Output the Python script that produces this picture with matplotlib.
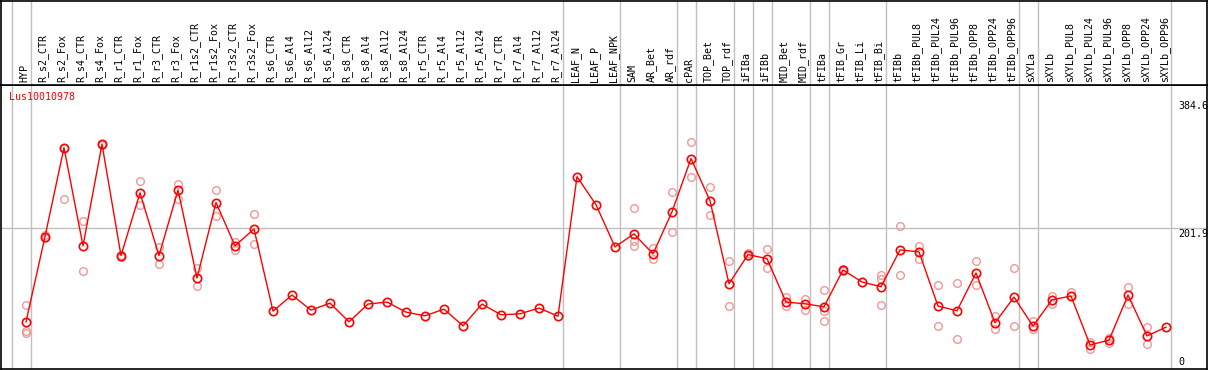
import matplotlib
matplotlib.use('Agg')
import matplotlib.pyplot as plt

categories = ['HYP', 'R_s2_CTR', 'R_s2_Fox', 'R_s4_CTR', 'R_s4_Fox', 'R_r1_CTR', 'R_r1_Fox',
              'R_r3_CTR', 'R_r3_Fox', 'R_r1s2_CTR', 'R_r1s2_Fox', 'R_r3s2_CTR', 'R_r3s2_Fox',
              'R_s6_CTR', 'R_s6_Al4', 'R_s6_Al12', 'R_s6_Al24', 'R_s8_CTR', 'R_s8_Al4',
              'R_s8_Al12', 'R_s8_Al24', 'R_r5_CTR', 'R_r5_Al4', 'R_r5_Al12', 'R_r5_Al24',
              'R_r7_CTR', 'R_r7_Al4', 'R_r7_Al12', 'R_r7_Al24', 'LEAF_N', 'LEAF_P', 'LEAF_NPK',
              'SAM', 'AR_Bet', 'AR_rdf', 'cPAR', 'TOP_Bet', 'TOP_rdf', 'iFIBa', 'iFIBb',
              'MID_Bet', 'MID_rdf', 'tFIBa', 'tFIB_Gr', 'tFIB_Li', 'tFIB_Bi', 'tFIBb',
              'tFIBb_PUL8', 'tFIBb_PUL24', 'tFIBb_PUL96', 'tFIBb_OPP8', 'tFIBb_OPP24',
              'tFIBb_OPP96', 'sXYLa', 'sXYLb', 'sXYLb_PUL8', 'sXYLb_PUL24', 'sXYLb_PUL96',
              'sXYLb_OPP8', 'sXYLb_OPP24', 'sXYLb_OPP96']

means = [67.2, 190, 318, 176.6, 323, 162.6, 253, 162.6, 257, 130.3, 239, 176.6, 201,
         82.6, 105.8, 84.1, 94.2, 67.2, 92.8, 95.7, 81.2, 75.9, 85.5, 61.4, 92.8,
         77.3, 78.8, 87.0, 75.4, 276.3, 235.8, 175.1,
         193.9, 165, 225.7, 302.3, 241.6, 122.1, 164, 158.2,
         95.7, 93.2, 88.9, 141.9, 124.6, 117.8, 170.8,
         167.9, 89.9, 83.1, 137.6, 65.8, 102.9,
         61, 99, 104.3, 34, 40.8, 105.8, 47, 59.5]

replicates = [[91, 54.6, 50.9], [188, 192], [244.5, 318], [213, 140.5], [323, 322],
              [164, 161], [270.5, 235.8], [174.6, 150.6], [266, 244.5], [144.2, 118.8],
              [257.5, 220], [182.8, 170.2], [222.8, 179.5],
              [], [], [], [], [], [], [], [], [], [], [], [], [], [], [], [],
              [], [], [],
              [231.5, 183.2, 176], [173.7, 157.8], [254.6, 196.8], [326.9, 276.3],
              [261.8, 221.4], [154.9, 90.3], [166, 162], [172.7, 144.8],
              [102.3, 89.3], [100.4, 84.5], [113, 82.1, 68.2], [143, 141], [],
              [134, 128.9, 91.3], [205.5, 135.1],
              [176.6, 157.8], [120.2, 61], [123.6, 42.6], [154.9, 120.2], [74.9, 56.6],
              [144.8, 61],
              [69, 56.6], [103.8, 92.8], [109.5, 104], [37.9, 28.6], [43.6, 37.3],
              [117.3, 92.8], [60, 34.9], []]

# group boundaries (after these indices)
separators = [-1, 0, 28, 31, 34, 35, 37, 38, 39, 41, 42, 45, 52, 53, 60]
y_labels = [384.6, 201.9, 0]
gene = 'Lus10010978'

W, H = 1209, 370
fig = plt.figure(figsize=(W / 100, H / 100), dpi=100)
mono = 'DejaVu Sans Mono'

x0 = (1 - 26) / 19
x1 = (1207 - 26) / 19
ymax = (368.5 - 85) / 0.6944

ax = fig.add_axes([1 / W, 1.5 / H, 1206 / W, 283.5 / H])
hd = fig.add_axes([1 / W, 285 / H, 1206 / W, 84.5 / H], sharex=ax)

grey = '#c0c0c0'
for s in separators:
    ax.axvline(s + 0.25, color=grey, lw=1, zorder=0)
    hd.axvline(s + 0.25, color=grey, lw=1, zorder=0)
ax.axhline(201.9, color=grey, lw=1, zorder=0)

xs = list(range(len(categories)))
for i, reps in enumerate(replicates):
    if reps:
        ax.plot([i] * len(reps), reps, 'o', ms=5.5, mfc='none', mec='#f09898', mew=1, zorder=2)
ax.plot(xs, means, '-', color='red', lw=1, zorder=3)
ax.plot(xs, means, 'o', ms=6, mfc='none', mec='red', mew=1.2, zorder=4)

ax.set_xlim(x0, x1)
ax.set_ylim(0, ymax)
ax.set_xticks([])
ax.set_yticks([])
for sp in ax.spines.values():
    sp.set_color('black')
    sp.set_linewidth(1.2)

xt = (1178 - 26) / 19
ax.text(xt, y_labels[0], '384.6', ha='left', va='top', fontsize=7.2, family=mono)
ax.text(xt, y_labels[1] - 1, '201.9', ha='left', va='top', fontsize=7.2, family=mono)
ax.text(xt, y_labels[2] + 1.5, '0', ha='left', va='bottom', fontsize=7.2, family=mono)
ax.text((9 - 26) / 19, 391, gene, ha='left', va='center', fontsize=7.2, family=mono, color='red')

hd.set_ylim(0, 1)
hd.set_yticks([])
hd.tick_params(axis='x', bottom=False, labelbottom=False)
for sp in hd.spines.values():
    sp.set_color('black')
    sp.set_linewidth(1.2)
for i, c in enumerate(categories):
    hd.text(i - 0.1, 0.035, c, rotation=90, ha='center', va='bottom', fontsize=7.2, family=mono)

fig.savefig('out.png', dpi=100)
